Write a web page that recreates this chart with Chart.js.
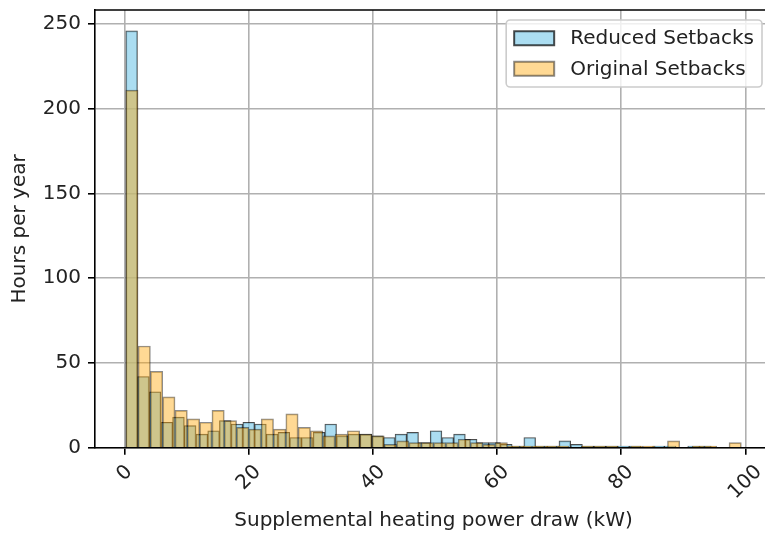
<!DOCTYPE html>
<html>
<head>
<meta charset="utf-8">
<script src="https://cdn.jsdelivr.net/npm/chart.js@4"></script>
<style>
    html, body { margin: 0; padding: 0; background: #fff; overflow: hidden; }
    #wrap { width: 765px; height: 534px; overflow: hidden; }
    canvas { display: block; }
</style>
</head>
<body>
<div id="wrap"><canvas id="hist" width="775" height="534"></canvas></div>
<script>
// histogram data (hours per year in each power bin, 50 bins per series)
const reducedCounts = [
    246, 42, 33, 15, 18, 13, 8, 10, 16, 14,
    15, 14, 8, 9, 6, 6, 9, 14, 7, 8,
    8, 7, 6, 8, 9, 3, 10, 6, 8, 5,
    3, 3, 2, 1, 6, 1, 1, 4, 2, 1,
    1, 1, 1, 1, 0, 1, 1, 0, 1, 1
];
const originalCounts = [
    211, 60, 45, 30, 22, 17, 15, 22, 16, 12,
    11, 17, 11, 20, 12, 10, 7, 8, 10, 8,
    7, 2, 4, 3, 3, 3, 3, 5, 3, 2,
    3, 1, 1, 1, 1, 1, 0, 1, 1, 1,
    0, 1, 1, 0, 4, 0, 1, 1, 0, 3
];
// data range of each series (kW) -> bin edges, like np.histogram(bins=50)
const reducedRange = [0.16, 94.5];
const originalRange = [0.16, 99.36];
const binCount = 50;

const xTicks = [0, 20, 40, 60, 80, 100];
const yTicks = [0, 50, 100, 150, 200, 250];
const seriesLabels = ['Reduced Setbacks', 'Original Setbacks'];
const xTitle = 'Supplemental heating power draw (kW)';
const yTitle = 'Hours per year';

const FONT = '"DejaVu Sans", sans-serif';
const FS = 20;
const TEXT = '#222';

// bar centres from the bin edges
function toPoints(range, counts) {
    const w = (range[1] - range[0]) / binCount;
    return counts.map((c, i) => ({ x: range[0] + w * (i + 0.5), y: c }));
}

// top/right spines, rotated x labels and the in-axes legend
const extrasPlugin = {
    id: 'extras',
    afterDraw(chart) {
        const { ctx, chartArea } = chart;
        const xs = chart.scales.x;

        ctx.save();
        ctx.strokeStyle = '#000';
        ctx.lineWidth = 1.6;
        ctx.beginPath();
        ctx.moveTo(chartArea.left, chartArea.top);
        ctx.lineTo(chartArea.right, chartArea.top);
        ctx.lineTo(chartArea.right, chartArea.bottom);
        ctx.stroke();

        // x tick labels, rotated 45 deg and centred under the tick
        ctx.font = FS + 'px ' + FONT;
        ctx.fillStyle = TEXT;
        ctx.textAlign = 'center';
        ctx.textBaseline = 'middle';
        xTicks.forEach(v => {
            const px = xs.getPixelForValue(v);
            const label = String(v);
            const w = ctx.measureText(label).width;
            const d = (w + FS) / (2 * Math.SQRT2);
            ctx.save();
            ctx.translate(px, chartArea.bottom + 14 + d);
            ctx.rotate(-Math.PI / 4);
            ctx.fillText(label, 0, 0);
            ctx.restore();
        });

        // legend box
        const ds = chart.data.datasets;
        const textW = Math.max(...ds.map(d => ctx.measureText(d.label).width));
        const pad = 0.4 * FS, handleW = 2 * FS, handleH = 0.7 * FS, gap = 0.8 * FS;
        const rowH = 20.5, spacing = 0.5 * FS;
        const boxW = pad + handleW + gap + textW + pad;
        const boxH = pad * 2 + rowH * ds.length + spacing * (ds.length - 1);
        const right = chartArea.right - 0.5 * FS;
        const left = right - boxW;
        const top = chartArea.top + 0.5 * FS;

        ctx.beginPath();
        ctx.roundRect(left, top, boxW, boxH, 4);
        ctx.fillStyle = 'rgba(255,255,255,0.8)';
        ctx.fill();
        ctx.strokeStyle = '#cccccc';
        ctx.lineWidth = 1.6;
        ctx.stroke();

        ctx.textAlign = 'left';
        ds.forEach((d, i) => {
            const cy = top + pad + rowH / 2 + i * (rowH + spacing);
            ctx.fillStyle = d.backgroundColor;
            ctx.fillRect(left + pad, cy - handleH / 2, handleW, handleH);
            ctx.strokeStyle = d.borderColor;
            ctx.lineWidth = 2;
            ctx.strokeRect(left + pad, cy - handleH / 2, handleW, handleH);
            ctx.fillStyle = TEXT;
            ctx.fillText(d.label, left + pad + handleW + gap, cy + 1);
        });
        ctx.restore();
    }
};

Chart.defaults.font.family = FONT;
Chart.defaults.font.size = FS;
Chart.defaults.color = TEXT;

const gridOpts = {
    color: '#b0b0b0',
    lineWidth: 1.6,
    tickColor: '#000',
    tickLength: 7,
    tickWidth: 1.6,
    offset: false
};

const ctx = document.getElementById('hist');
const chart = new Chart(ctx, {
    type: 'bar',
    data: {
        datasets: [
            {
                label: seriesLabels[0],
                data: toPoints(reducedRange, reducedCounts),
                xAxisID: 'x',
                order: 2,
                backgroundColor: 'rgba(135,206,235,0.7)',
                borderColor: 'rgba(0,0,0,0.7)',
                borderWidth: 1,
                grouped: false,
                barPercentage: 1,
                categoryPercentage: 1
            },
            {
                label: seriesLabels[1],
                data: toPoints(originalRange, originalCounts),
                xAxisID: 'x2',
                order: 1,
                backgroundColor: 'rgba(255,165,0,0.42)',
                borderColor: 'rgba(0,0,0,0.45)',
                borderWidth: 1,
                grouped: false,
                barPercentage: 1,
                categoryPercentage: 1
            }
        ]
    },
    options: {
        responsive: false,
        animation: false,
        devicePixelRatio: 1,
        layout: { padding: { top: 10, right: 3, bottom: 0, left: 0 } },
        plugins: {
            legend: { display: false },
            tooltip: { enabled: false }
        },
        scales: {
            x: {
                type: 'linear',
                min: -4.8,
                max: 104.3,
                offset: false,
                z: 1,
                afterBuildTicks: s => { s.ticks = xTicks.map(v => ({ value: v })); },
                afterFit: s => { s.height = 86.3; s.paddingLeft = 0; s.paddingRight = 0; },
                grid: gridOpts,
                border: { color: '#000', width: 1.6 },
                ticks: { display: false },
                title: {
                    display: true,
                    text: xTitle,
                    color: TEXT,
                    font: { size: FS },
                    padding: { top: 0, bottom: 1 }
                }
            },
            x2: {
                type: 'linear',
                min: -4.8,
                max: 104.3,
                offset: false,
                grid: { offset: false },
                display: false
            },
            y: {
                type: 'linear',
                min: 0,
                max: 258.3,
                z: 1,
                afterBuildTicks: s => { s.ticks = yTicks.map(v => ({ value: v })); },
                afterFit: s => { s.width = 95; s.paddingTop = 0; s.paddingBottom = 0; },
                grid: gridOpts,
                border: { color: '#000', width: 1.6 },
                ticks: { padding: 7, color: TEXT, font: { size: FS } },
                title: {
                    display: true,
                    text: yTitle,
                    color: TEXT,
                    font: { size: FS },
                    padding: { top: 8, bottom: 0 }
                }
            }
        }
    },
    plugins: [extrasPlugin]
});
</script>
</body>
</html>
